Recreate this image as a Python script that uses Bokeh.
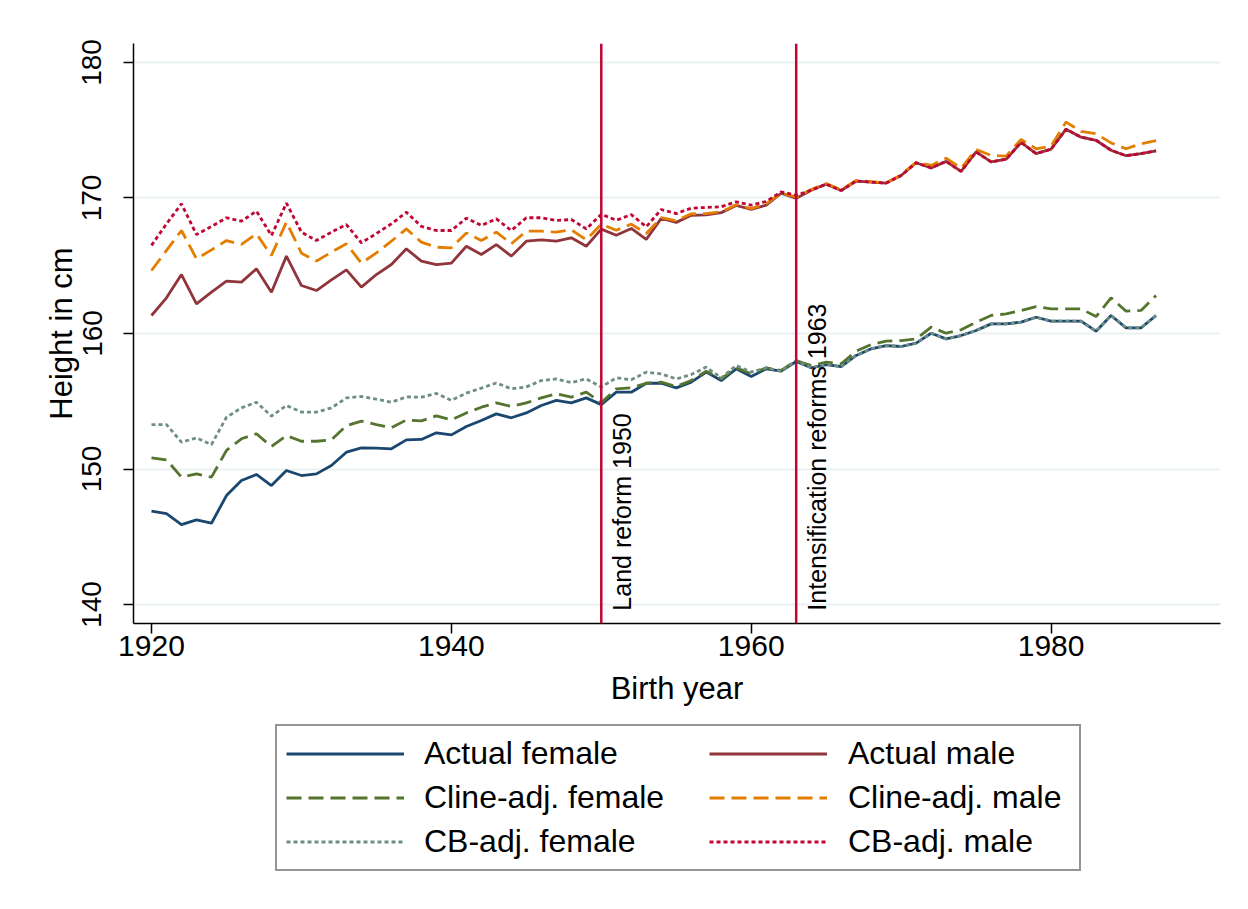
import math
from bokeh.plotting import figure
from bokeh.layouts import column
from bokeh.models import Range1d, FixedTicker, Span, Label, Legend, LegendItem
from bokeh.embed import file_html
from bokeh.resources import INLINE

years = list(range(1920, 1988))

actual_female = [146.89, 146.70, 145.90, 146.25, 146.00, 148.04, 149.15, 149.60, 148.78, 149.89,
                 149.52, 149.64, 150.26, 151.24, 151.56, 151.54, 151.49, 152.15, 152.18, 152.67,
                 152.52, 153.14, 153.58, 154.07, 153.78, 154.14, 154.69, 155.06, 154.88, 155.25,
                 154.75, 155.67, 155.67, 156.33, 156.33, 155.99, 156.41, 157.15, 156.53, 157.39,
                 156.83, 157.39, 157.22, 157.93, 157.47, 157.71, 157.56, 158.38, 158.87, 159.11,
                 159.04, 159.29, 160.02, 159.60, 159.85, 160.22, 160.71, 160.71, 160.84, 161.20,
                 160.91, 160.91, 160.91, 160.17, 161.33, 160.42, 160.42, 161.33]

cline_female = [150.82, 150.68, 149.40, 149.64, 149.40, 151.37, 152.23, 152.60, 151.66, 152.47,
                152.05, 152.05, 152.15, 153.20, 153.53, 153.28, 153.04, 153.62, 153.55, 153.92,
                153.63, 154.14, 154.56, 154.88, 154.61, 154.88, 155.25, 155.55, 155.30, 155.67,
                154.90, 155.92, 155.99, 156.33, 156.41, 156.09, 156.53, 157.22, 156.65, 157.47,
                157.02, 157.47, 157.27, 158.00, 157.64, 157.88, 157.76, 158.70, 159.19, 159.43,
                159.48, 159.60, 160.47, 160.02, 160.27, 160.84, 161.33, 161.45, 161.70, 161.99,
                161.82, 161.82, 161.82, 161.25, 162.63, 161.65, 161.70, 162.80]

cb_female = [153.28, 153.28, 151.98, 152.30, 151.80, 153.82, 154.51, 154.93, 153.90, 154.69,
             154.20, 154.20, 154.51, 155.25, 155.35, 155.15, 154.93, 155.32, 155.30, 155.58,
             155.06, 155.60, 155.97, 156.35, 155.92, 156.06, 156.53, 156.65, 156.37, 156.65,
             156.05, 156.73, 156.58, 157.15, 157.02, 156.65, 156.97, 157.52, 156.73, 157.64,
             157.15, 157.47, 157.22, 158.00, 157.47, 157.71, 157.56, 158.38, 158.87, 159.11,
             159.04, 159.29, 160.02, 159.60, 159.85, 160.22, 160.71, 160.71, 160.84, 161.20,
             160.91, 160.91, 160.91, 160.17, 161.33, 160.42, 160.42, 161.33]

actual_male = [161.33, 162.63, 164.35, 162.19, 163.05, 163.86, 163.79, 164.77, 163.05, 165.71,
               163.54, 163.17, 163.96, 164.70, 163.42, 164.35, 165.09, 166.25, 165.34, 165.09,
               165.19, 166.44, 165.83, 166.56, 165.71, 166.81, 166.91, 166.81, 167.06, 166.44,
               167.70, 167.25, 167.75, 166.95, 168.50, 168.20, 168.72, 168.76, 168.92, 169.45,
               169.15, 169.47, 170.35, 169.97, 170.57, 171.02, 170.55, 171.25, 171.17, 171.10,
               171.66, 172.60, 172.22, 172.70, 171.96, 173.40, 172.66, 172.86, 174.10, 173.28,
               173.60, 175.08, 174.49, 174.26, 173.52, 173.12, 173.28, 173.48]

cline_male = [164.65, 166.13, 167.60, 165.51, 166.17, 166.86, 166.57, 167.35, 165.76, 168.22,
              165.93, 165.34, 166.00, 166.62, 165.19, 165.95, 166.81, 167.72, 166.74, 166.37,
              166.32, 167.42, 166.86, 167.48, 166.62, 167.55, 167.55, 167.48, 167.65, 166.91,
              168.07, 167.62, 168.07, 167.38, 168.55, 168.32, 168.83, 168.85, 168.98, 169.50,
              169.22, 169.57, 170.38, 170.06, 170.62, 171.07, 170.60, 171.30, 171.20, 171.12,
              171.71, 172.64, 172.40, 172.94, 172.20, 173.58, 173.14, 173.09, 174.32, 173.63,
              173.83, 175.60, 174.91, 174.74, 174.07, 173.63, 174.00, 174.24]

cb_male = [166.50, 168.09, 169.57, 167.30, 167.90, 168.54, 168.29, 169.03, 167.23, 169.62,
           167.48, 166.86, 167.48, 168.04, 166.69, 167.38, 168.09, 168.95, 167.90, 167.60,
           167.60, 168.51, 167.97, 168.46, 167.60, 168.54, 168.54, 168.34, 168.41, 167.72,
           168.80, 168.36, 168.77, 167.88, 169.15, 168.85, 169.25, 169.30, 169.35, 169.72,
           169.47, 169.74, 170.45, 170.20, 170.57, 171.02, 170.55, 171.25, 171.17, 171.10,
           171.66, 172.60, 172.22, 172.70, 171.96, 173.40, 172.66, 172.86, 174.10, 173.28,
           173.60, 175.08, 174.49, 174.26, 173.52, 173.12, 173.28, 173.48]

x_ticks = [1920, 1940, 1960, 1980]
y_ticks = [140, 150, 160, 170, 180]
reforms = [1950, 1963]
reform_labels = ["Land reform 1950", "Intensification reforms 1963"]

series_names = ["Actual female", "Cline-adj. female", "CB-adj. female",
                "Actual male", "Cline-adj. male", "CB-adj. male"]
series_colors = ["#1a476f", "#55752f", "#6e8e84", "#90353b", "#e37e00", "#c10534"]
series_dash = ["solid", "15 7", "4 3", "solid", "15 7", "4 3"]
series_values = [actual_female, cline_female, cb_female, actual_male, cline_male, cb_male]
draw_order = [0, 3, 1, 4, 2, 5]

FONT = "Liberation Sans"
W = 1240
LW = 2.8

p = figure(width=W, height=715, output_backend="svg", toolbar_location=None,
           x_range=Range1d(1918.8, 1991.3), y_range=Range1d(138.6, 181.4),
           min_border_left=133, min_border_right=20, min_border_top=43, min_border_bottom=92)
p.background_fill_color = "white"
p.border_fill_color = "white"
p.outline_line_color = None

p.xgrid.grid_line_color = None
p.ygrid.grid_line_color = "#eaf2f3"
p.ygrid.grid_line_width = 2
p.ygrid.ticker = FixedTicker(ticks=y_ticks)

for ax in (p.xaxis[0], p.yaxis[0]):
    ax.axis_line_color = "black"
    ax.axis_line_width = 1.5
    ax.major_tick_line_color = "black"
    ax.major_tick_line_width = 1.5
    ax.major_tick_out = 10
    ax.major_tick_in = 0
    ax.minor_tick_line_color = None
    ax.major_label_text_font = FONT
    ax.major_label_text_color = "black"
    ax.axis_label_text_font = FONT
    ax.axis_label_text_font_style = "normal"
    ax.axis_label_text_font_size = "31px"
    ax.axis_label_text_color = "black"

p.xaxis.ticker = FixedTicker(ticks=x_ticks)
p.yaxis.ticker = FixedTicker(ticks=y_ticks)
p.xaxis.major_label_text_font_size = "30px"
p.yaxis.major_label_text_font_size = "28px"
p.yaxis.major_label_orientation = "parallel"
p.xaxis.major_label_standoff = 2
p.yaxis.major_label_standoff = 22
p.xaxis.axis_label = "Birth year"
p.yaxis.axis_label = "Height in cm"
p.xaxis.axis_label_standoff = 12
p.yaxis.axis_label_standoff = 1

for i in draw_order:
    p.line(years, series_values[i], line_color=series_colors[i], line_width=LW,
           line_dash=series_dash[i])

for yr, txt in zip(reforms, reform_labels):
    p.add_layout(Span(location=yr, dimension="height", line_color="#c10534", line_width=2.5))
    p.add_layout(Label(x=yr, y=139.55, text=txt, angle=math.pi / 2, x_offset=21,
                       text_align="left", text_baseline="middle", text_font=FONT,
                       text_font_size="25px", text_color="black"))

# legend panel below the chart (series drawn off-range so only legend samples show)
q = figure(width=W, height=185, output_backend="svg", toolbar_location=None,
           x_range=Range1d(0, 1), y_range=Range1d(0, 1), x_axis_type=None, y_axis_type=None,
           min_border=0)
q.outline_line_color = None
q.grid.visible = False
q.background_fill_color = "white"
q.border_fill_color = "white"

legend_renderers = []
for i in range(6):
    legend_renderers.append(q.line(years, series_values[i], line_color=series_colors[i],
                                   line_width=LW, line_dash=series_dash[i]))

common = dict(orientation="vertical", spacing=7, glyph_width=118, glyph_height=37,
              label_height=37, label_text_font=FONT, label_text_baseline="middle",
              label_text_font_size="32px", label_text_color="black", margin=0)

leg1 = Legend(items=[LegendItem(label=series_names[i], renderers=[legend_renderers[i]]) for i in range(3)],
              location=(142, 29), label_width=646, padding=9, label_standoff=20,
              border_line_color="#2a2a2a", border_line_width=2,
              background_fill_color="white", background_fill_alpha=1.0, **common)
leg2 = Legend(items=[LegendItem(label=series_names[i], renderers=[legend_renderers[i]]) for i in range(3, 6)],
              location=(576, 40), padding=0, label_standoff=21, border_line_color=None,
              background_fill_alpha=0.0, **common)
q.add_layout(leg1)
q.add_layout(leg2)

layout = column(p, q, spacing=0)
open("out.html", "w").write(file_html(layout, INLINE))
